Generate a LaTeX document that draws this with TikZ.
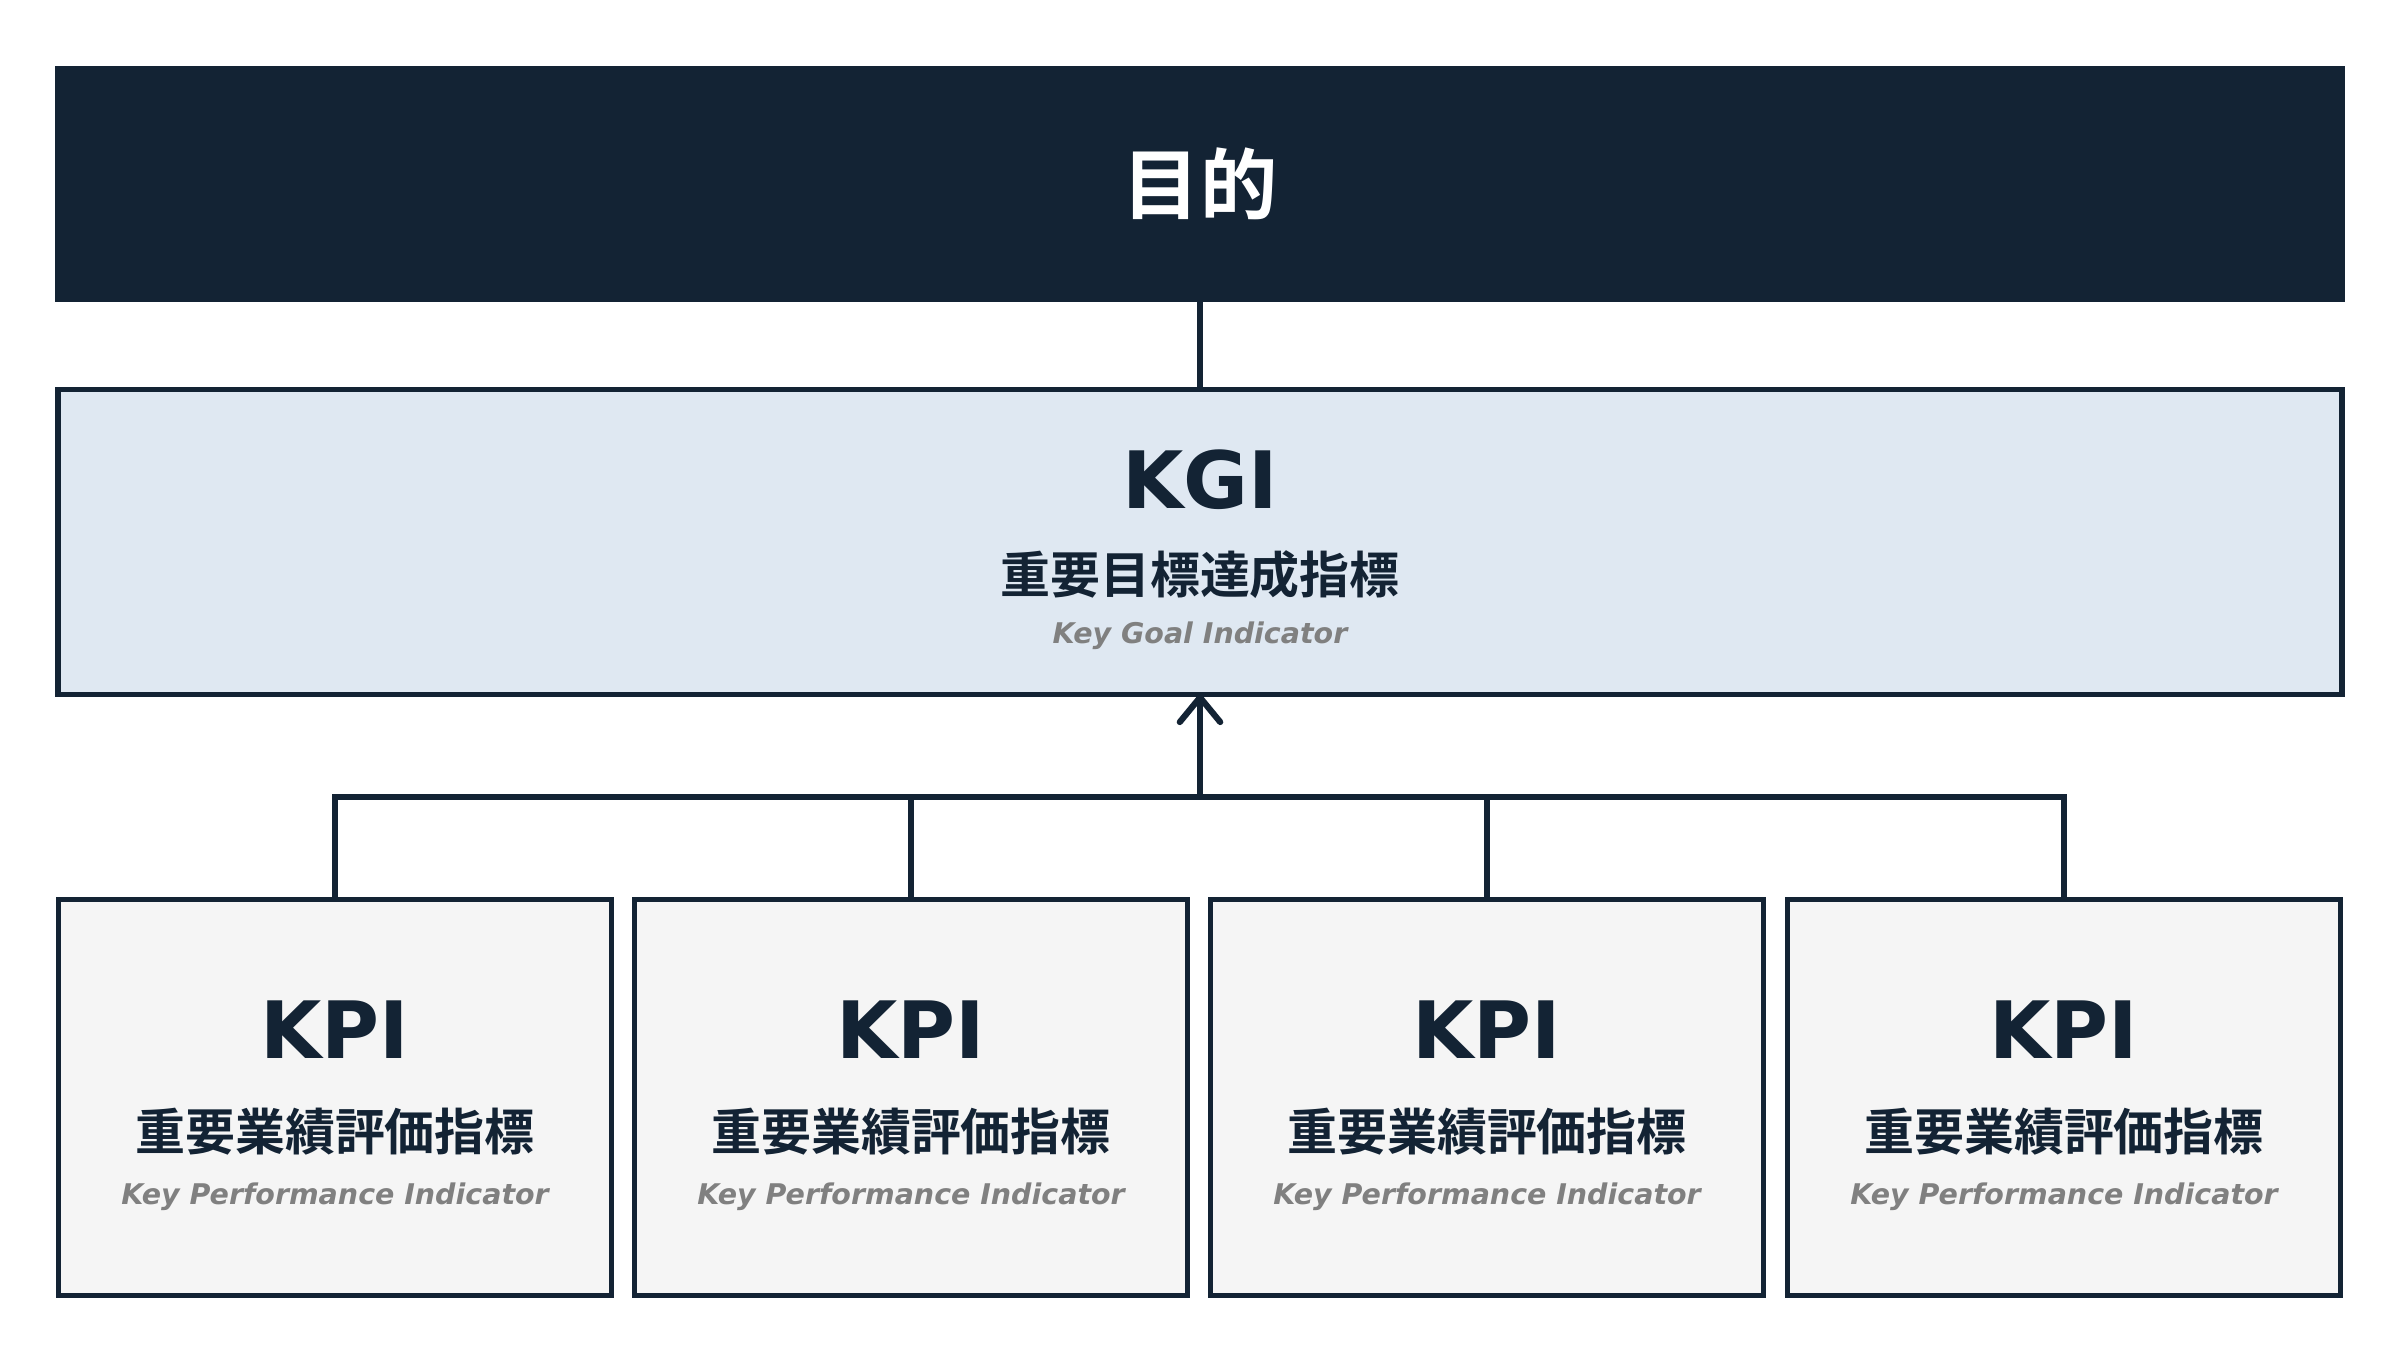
\documentclass[tikz,border=0pt]{standalone}
\usepackage{fontspec}
\setmainfont{DejaVu Sans}
\newfontfamily\cjk{Noto Sans CJK JP}[BoldFont={* Bold}]
\usetikzlibrary{arrows.meta}
\definecolor{navy}{HTML}{132334}
\definecolor{kgifill}{HTML}{DFE8F2}
\definecolor{kpifill}{HTML}{F5F5F5}
\definecolor{subgray}{HTML}{808080}
\tikzset{
  boxline/.style={line width=1.56pt, draw=navy, inner sep=0pt, outer sep=0pt},
  goalbox/.style={fill=navy, draw=none, inner sep=0pt, outer sep=0pt,
    minimum width=22.88cm, minimum height=2.36cm,
    text=white, font=\cjk\bfseries\fontsize{22pt}{26pt}\selectfont},
  kgibox/.style={boxline, fill=kgifill, minimum width=22.825cm, minimum height=3.045cm},
  kpibox/.style={boxline, fill=kpifill, minimum width=5.525cm, minimum height=3.955cm},
  bigtxt/.style={inner sep=0pt, text=navy, font=\bfseries\fontsize{22.5pt}{26pt}\selectfont},
  jptxt/.style={inner sep=0pt, text=navy, font=\cjk\bfseries\fontsize{14.2pt}{17pt}\selectfont},
  subtxt/.style={inner sep=0pt, text=subgray, font=\bfseries\itshape\fontsize{8.1pt}{9.5pt}\selectfont},
  conn/.style={line width=1.75pt, draw=navy},
}
\begin{document}
\begin{tikzpicture}[x=0.01cm, y=-0.01cm]
\useasboundingbox[fill=white] (0,0) rectangle (2400,1350);

% goal
\node[goalbox] (goal) at (1200,184) {目的};

% KGI
\node[kgibox] (kgi) at (1200,542) {};
\node[bigtxt] (kgit) at (1200,480) {KGI};
\node[jptxt] (kgij) at (1200,575) {重要目標達成指標};
\node[subtxt] (kgie) at (1200,636) {Key Goal Indicator};

% KPIs
\foreach \i/\x in {1/335, 2/911, 3/1487, 4/2064} {
  \node[kpibox] (kpi\i) at (\x,1097.5) {};
  \node[bigtxt] (kpit\i) at (\x,1030) {KPI};
  \node[jptxt] (kpij\i) at (\x,1132) {重要業績評価指標};
  \node[subtxt] (kpie\i) at (\x,1197) {Key Performance Indicator};
}

% connectors
\draw[conn] (goal.south) -- (kgi.north);
\coordinate (bus) at (1200,797);
\draw[conn] (kpi1.north) |- (bus) -| (kpi4.north);
\draw[conn] (kpi2.north) -- (kpi2.north |- bus);
\draw[conn] (kpi3.north) -- (kpi3.north |- bus);
\draw[conn, -{Straight Barb[length=7pt, width=11.5pt, round]}] (bus) -- (kgi.south);
\end{tikzpicture}
\end{document}
